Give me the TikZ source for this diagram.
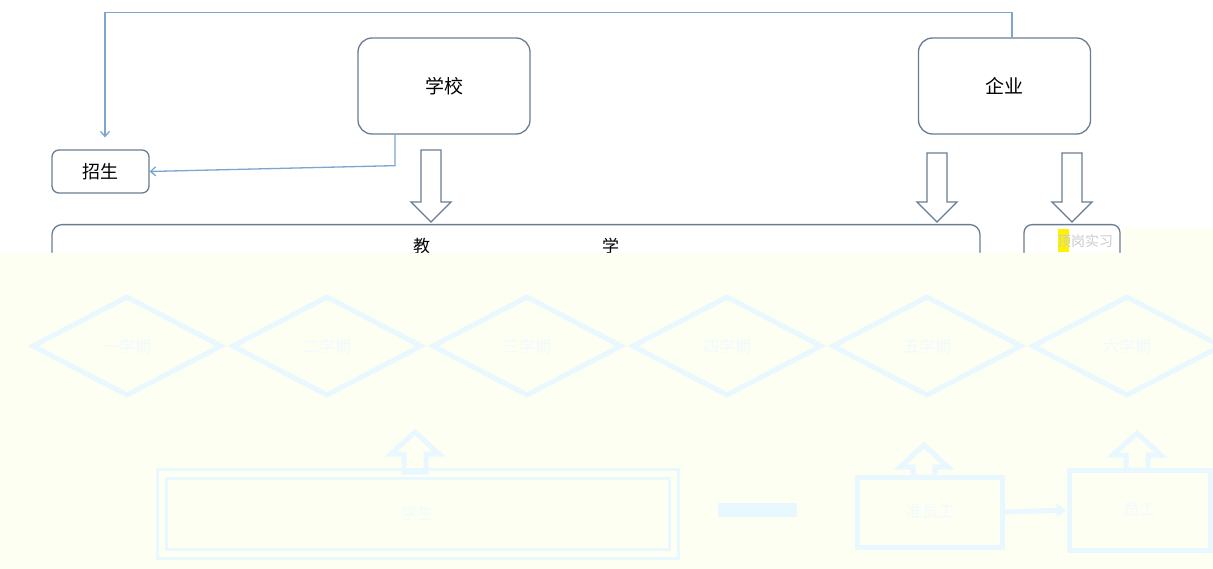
\documentclass[tikz,border=0pt]{standalone}
\usepackage{fontspec}
\setmainfont{Noto Sans CJK SC}
\usetikzlibrary{shapes.geometric,arrows.meta,calc}
\definecolor{boxc}{RGB}{105,125,145}
\definecolor{connc}{RGB}{125,165,205}
\definecolor{bandc}{RGB}{253,255,242}
\definecolor{ghost}{RGB}{233,248,255}
\definecolor{ghosttext}{RGB}{240,250,255}
\newcommand\hdown[3]{\draw[harrow] ({#1-10},#2) -- ({#1+10},#2) -- ({#1+10},{#3-20}) -- ({#1+20},{#3-20}) -- (#1,#3) -- ({#1-20},{#3-20}) -- ({#1-10},{#3-20}) -- cycle;}
\newcommand\gup[3]{\draw[ghostarrow] ({#1-11},#3) -- ({#1+11},#3) -- ({#1+11},{#2+22}) -- ({#1+24},{#2+22}) -- (#1,#2) -- ({#1-24},{#2+22}) -- ({#1-11},{#2+22}) -- cycle;}
\begin{document}
\begin{tikzpicture}[x=1pt,y=-1pt,
  box/.style={draw=boxc,line width=1.3pt,rounded corners=14pt,inner sep=0pt,font=\fontsize{19pt}{21pt}\selectfont},
  smallbox/.style={box,rounded corners=7pt,font=\fontsize{18pt}{20pt}\selectfont},
  conn/.style={draw=connc,line width=1.3pt,-{Straight Barb[length=5pt,width=9pt]}},
  harrow/.style={draw=boxc,line width=1.3pt,fill=white,line join=miter},
  ghostbox/.style={draw=ghost,line width=5pt,inner sep=0pt,font=\fontsize{16pt}{18pt}\selectfont,text=ghosttext},
  ghostdia/.style={ghostbox,diamond,aspect=1.9,minimum width=190pt,minimum height=100pt},
  ghostarrow/.style={draw=ghost,line width=5pt,line join=miter},
]
\useasboundingbox (0,0) rectangle (1213,569);
\fill[white] (0,0) rectangle (1213,569);

% upper part
\node[box,minimum width=172pt,minimum height=96pt] (xuexiao) at (444,86) {学校};
\node[box,minimum width=172pt,minimum height=96pt] (qiye) at (1004.5,86) {企业};
\node[smallbox,minimum width=97pt,minimum height=43pt] (zhaosheng) at (100.5,171.5) {招生};
\node[box,rounded corners=10pt,minimum width=928pt,minimum height=110pt,anchor=north] (jiaoxue) at (516,224) {};
\node[font=\fontsize{17pt}{19pt}\selectfont,inner sep=0pt] (jxlabel) at (516,246) {教\hspace{172pt}学};
\node[box,rounded corners=8pt,minimum width=96pt,minimum height=60pt,anchor=north] (shixi) at (1072,224) {};
\fill[yellow] (1058,229) rectangle (1069,252);
\node[font=\fontsize{14pt}{16pt}\selectfont,text=gray!40,inner sep=0pt] (sxlabel) at (1085,241) {顶岗实习};

\draw[conn,shorten >=12pt] ([xshift=7.5pt]qiye.north) -- ++(0,-25) -| ([xshift=4.5pt]zhaosheng.north);
\draw[conn] ([xshift=-49pt]xuexiao.south) -- ++(0,31) -- (zhaosheng.east);

\hdown{431}{150}{222}
\hdown{937}{153}{222}
\hdown{1072}{153}{222}

% washed-out lower part
\fill[bandc] (0,253) -- (1122,253) -- (1122,228) -- (1213,228) -- (1213,569) -- (0,569) -- cycle;

\foreach \i/\t in {0/一学期,1/二学期,2/三学期,3/四学期,4/五学期,5/六学期}
  \node[ghostdia] (d\i) at ({127+200*\i},346) {\t};

\node[ghostbox,double=bandc,double distance=6pt,line width=3pt,minimum width=512pt,minimum height=80pt] (xuesheng) at (417.5,513.5) {学生};
\node[ghostbox,minimum width=145pt,minimum height=70pt] (zyg) at (930,512) {准员工};
\node[ghostbox,minimum width=141pt,minimum height=80pt] (yg) at (1139.5,510) {员工};

\gup{415}{432}{472}
\gup{924}{445}{477}
\gup{1137}{433}{470}

\coordinate (g1) at (718,510);
\coordinate (g2) at (797,510);
\draw[draw=ghost,line width=14pt] (g1) -- (g2);
\draw[ghostarrow,-{Triangle[length=10pt,width=14pt]}] (zyg.east) -- (yg.west);
\end{tikzpicture}
\end{document}
